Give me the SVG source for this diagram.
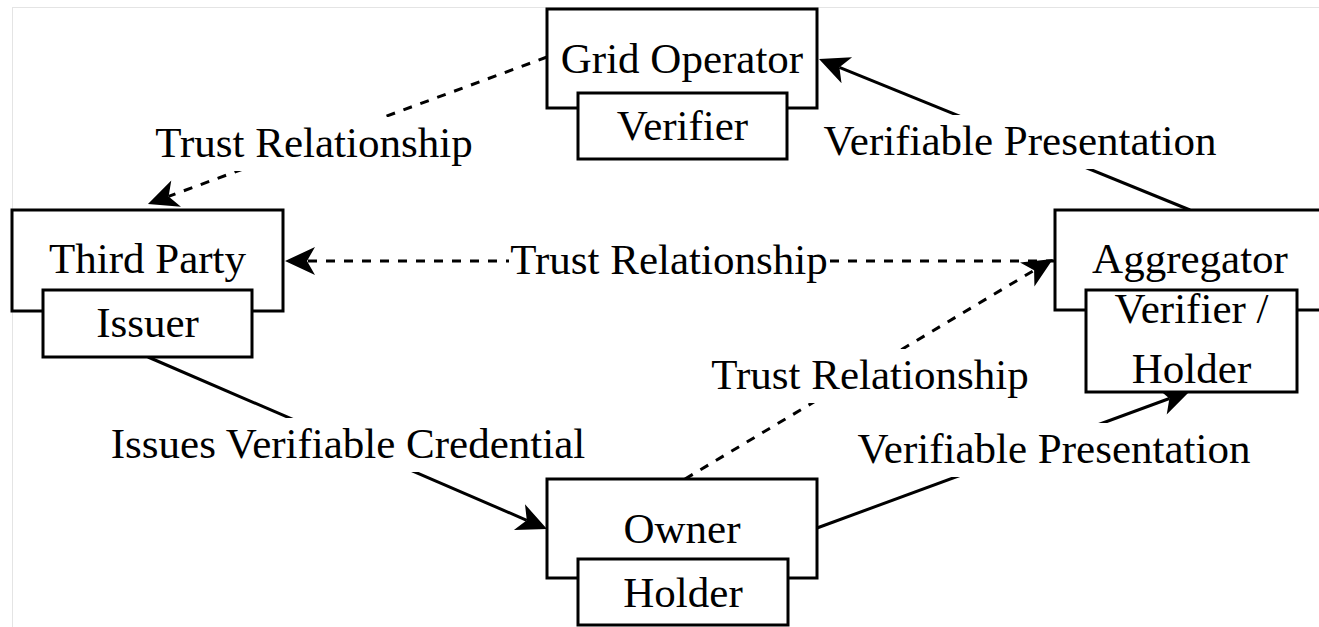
<svg xmlns="http://www.w3.org/2000/svg" width="1319" height="627" viewBox="0 0 1319 627">
  <style>
    .box { fill: #ffffff; stroke: #000000; stroke-width: 3; }
    .t { font-family: "Liberation Serif", "Times New Roman", serif; font-size: 43px; fill: #000000; text-anchor: middle; }
    .edge { fill: none; stroke: #000000; stroke-width: 3; }
    .dash { stroke-dasharray: 9 9; }
    .lbg { fill: #ffffff; }
  </style>
  <defs>
    <marker id="arr" markerUnits="userSpaceOnUse" orient="auto" viewBox="-12 -16 36 32" markerWidth="36" markerHeight="32" refX="0" refY="0">
      <path d="M22,0 L-8,-14 L0,0 L-8,14 Z" fill="#000000"/>
    </marker>
  </defs>
  <rect x="0" y="0" width="1319" height="627" fill="#ffffff"/>
  <rect x="12.5" y="7.5" width="1400" height="700" fill="none" stroke="#e4e4e4" stroke-width="1"/>

  <g id="connectors">
    <line class="edge dash" x1="547" y1="57" x2="168.6" y2="196.4" marker-end="url(#arr)"/>
    <line class="edge dash" x1="1055" y1="261" x2="307" y2="261" marker-end="url(#arr)"/>
    <line class="edge dash" x1="685" y1="479" x2="1034.1" y2="270.3" marker-end="url(#arr)"/>
    <line class="edge" x1="1190" y1="210" x2="839.4" y2="67.3" marker-end="url(#arr)"/>
    <line class="edge" x1="148" y1="357" x2="526.8" y2="520.3" marker-end="url(#arr)"/>
    <line class="edge" x1="817" y1="528" x2="1169.4" y2="398.5" marker-end="url(#arr)"/>
  </g>

  <g id="labels">
    <rect class="lbg" x="153" y="117" width="322" height="54"/>
    <text class="t" x="314" y="157">Trust Relationship</text>
    <rect class="lbg" x="820" y="115" width="400" height="54"/>
    <text class="t" x="1020" y="155">Verifiable Presentation</text>
    <rect class="lbg" x="509" y="234" width="320" height="54"/>
    <text class="t" x="669" y="274">Trust Relationship</text>
    <rect class="lbg" x="709" y="349" width="322" height="54"/>
    <text class="t" x="870" y="389">Trust Relationship</text>
    <rect class="lbg" x="105" y="418" width="486" height="54"/>
    <text class="t" x="348" y="458">Issues Verifiable Credential</text>
    <rect class="lbg" x="853" y="423" width="402" height="54"/>
    <text class="t" x="1054" y="463">Verifiable Presentation</text>
  </g>

  <g id="grid-operator">
    <rect class="box" x="547" y="9" width="270" height="99"/>
    <text class="t" x="682" y="73">Grid Operator</text>
    <rect class="box" x="578" y="93" width="209" height="66"/>
    <text class="t" x="682.5" y="140">Verifier</text>
  </g>

  <g id="third-party">
    <rect class="box" x="12" y="210" width="271" height="101"/>
    <text class="t" x="147.5" y="273">Third Party</text>
    <rect class="box" x="43" y="290" width="209" height="67"/>
    <text class="t" x="147.5" y="337">Issuer</text>
  </g>

  <g id="aggregator">
    <rect class="box" x="1055" y="210" width="270" height="100"/>
    <text class="t" x="1190" y="273">Aggregator</text>
    <rect class="box" x="1086" y="290" width="211" height="102"/>
    <text class="t" x="1191.5" y="323">Verifier /</text>
    <text class="t" x="1191.5" y="383">Holder</text>
  </g>

  <g id="owner">
    <rect class="box" x="547" y="479" width="270" height="99"/>
    <text class="t" x="682" y="543">Owner</text>
    <rect class="box" x="578" y="559" width="210" height="66"/>
    <text class="t" x="683" y="607">Holder</text>
  </g>
</svg>
